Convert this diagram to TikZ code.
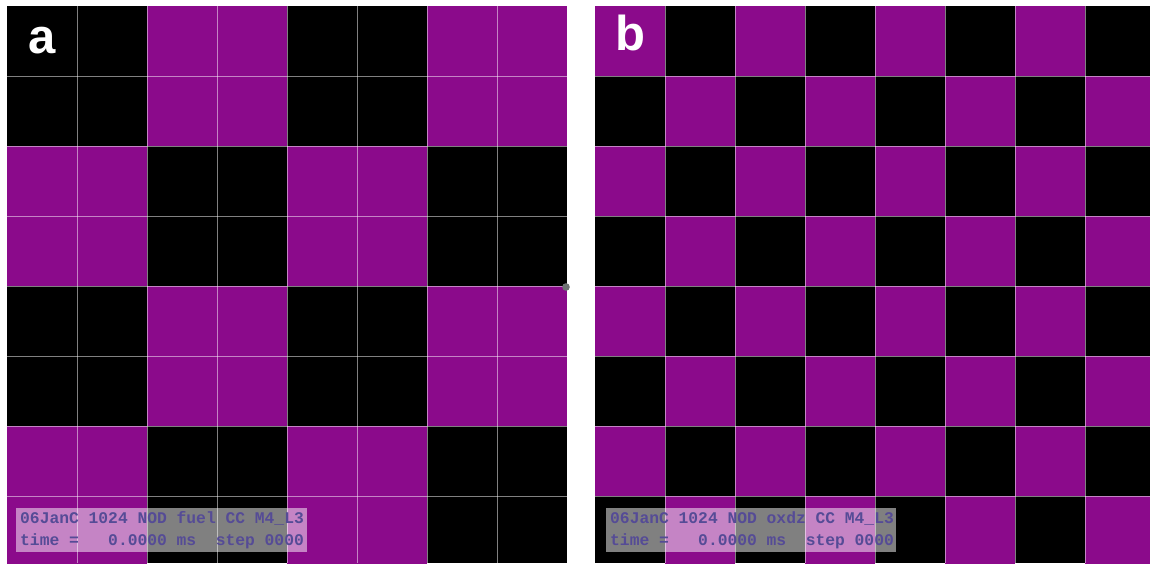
\documentclass[tikz,border=0pt]{standalone}
\usepackage{fontspec}
\setmainfont{Liberation Sans}
\newfontfamily\panelmono{Liberation Mono}
\definecolor{cellpurple}{RGB}{139,10,139}
\definecolor{infotext}{RGB}{85,75,150}
\definecolor{dotgray}{RGB}{110,115,115}
\tikzset{
  gridline/.style={draw=white, draw opacity=0.5, line width=1pt},
  infobox/.style={fill=white, fill opacity=0.5},
  infoline/.style={anchor=base west, inner sep=0pt, text=infotext, font=\panelmono\bfseries\fontsize{16.3}{18}\selectfont},
  panellabel/.style={anchor=base west, inner sep=0pt, text=white, font=\bfseries\fontsize{49}{50}\selectfont}
}
\begin{document}
\begin{tikzpicture}[x=1pt,y=-1pt]
\useasboundingbox (0,0) rectangle (1150,563);
\fill[white] (0,0) rectangle (1150,563);
% ---------- panel a ----------
\begin{scope}
\clip (7,6) rectangle (567,563);
\fill[black] (7,6) rectangle (567,563);
\foreach \r in {0,...,7}{
  \foreach \c in {0,...,7}{
    \pgfmathtruncatemacro\k{mod(floor(\r/2)+floor(\c/2),2)}
    \ifnum\k=1 \fill[cellpurple] ({7+70*\c},{6+70*\r}) rectangle +(70,70); \fi
  }
}
\foreach \i in {1,...,7}{
  \draw[gridline] ({7+70*\i},6) -- ({7+70*\i},563);
  \draw[gridline] (7,{6+70*\i}) -- (567,{6+70*\i});
}
\fill[infobox] (16,508) rectangle (307,552);
\end{scope}
\node[panellabel] (la) at (28,53) {a};
\node[infoline] (a1) at (20,523) {06JanC~1024~NOD~fuel~CC~M4\_L3};
\node[infoline] (a2) at (20,545) {time~=~~~0.0000~ms~~step~0000};
% ---------- panel b ----------
\begin{scope}
\clip (595,6) rectangle (1150,563);
\fill[black] (595,6) rectangle (1150,563);
\foreach \r in {0,...,7}{
  \foreach \c in {0,...,7}{
    \pgfmathtruncatemacro\k{mod(\r+\c,2)}
    \ifnum\k=0 \fill[cellpurple] ({595+70*\c},{6+70*\r}) rectangle +(70,70); \fi
  }
}
\foreach \i in {1,...,7}{
  \draw[gridline] ({595+70*\i},6) -- ({595+70*\i},563);
  \draw[gridline] (595,{6+70*\i}) -- (1150,{6+70*\i});
}
\fill[infobox] (606,508) rectangle (896,552);
\end{scope}
\node[panellabel] (lb) at (615,50) {b};
\node[infoline] (b1) at (610,523) {06JanC~1024~NOD~oxdz~CC~M4\_L3};
\node[infoline] (b2) at (610,545) {time~=~~~0.0000~ms~~step~0000};
% small dot at the panel edge
\fill[dotgray] (566,287) circle (3.8);
\end{tikzpicture}
\end{document}
